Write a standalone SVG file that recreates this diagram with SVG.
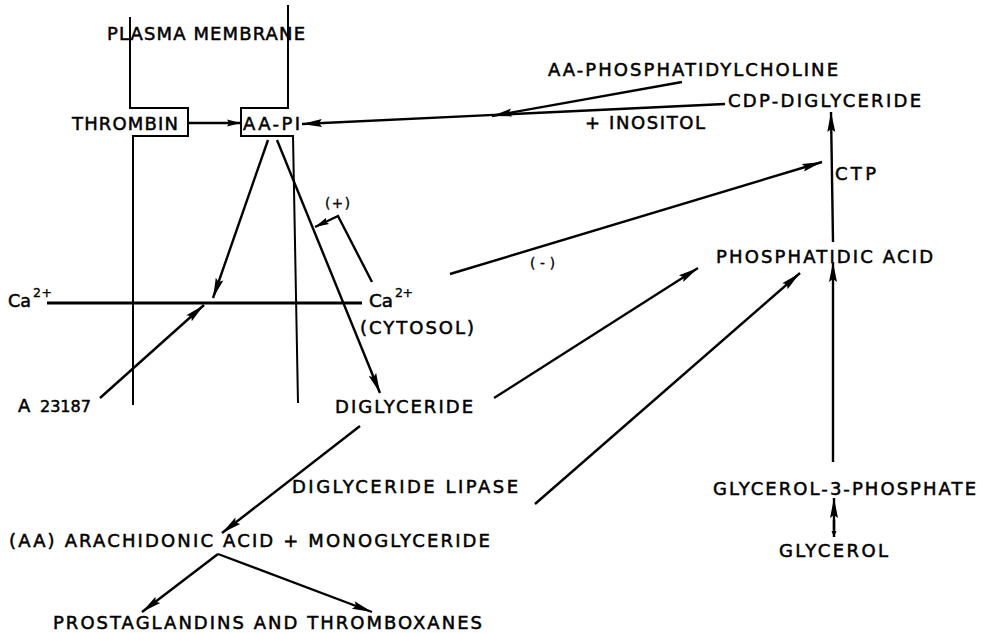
<svg xmlns="http://www.w3.org/2000/svg" width="983" height="633" viewBox="0 0 983 633">
<style>
text{font-family:"DejaVu Sans","Liberation Sans",Arial,sans-serif;font-size:18px;fill:#000;stroke:#000;stroke-width:0.5;}
.sm{font-size:13.5px;stroke-width:0.35;}
.sup{font-size:12.5px;stroke-width:0.35;}
.ln{fill:none;stroke:#000;stroke-width:2.4;}
.mb{fill:none;stroke:#000;stroke-width:2;}
</style>
<defs>
<marker id="ah" markerUnits="userSpaceOnUse" markerWidth="20" markerHeight="8" refX="20" refY="4" orient="auto" overflow="visible">
<path d="M0,0 L20,4 L0,8 L3,4 z" fill="#000"/>
</marker>
<marker id="ahs" markerUnits="userSpaceOnUse" markerWidth="14" markerHeight="7" refX="14" refY="3.5" orient="auto" overflow="visible">
<path d="M0,0 L14,3.5 L0,7 L2,3.5 z" fill="#000"/>
</marker>
<marker id="aht" markerUnits="userSpaceOnUse" markerWidth="6" markerHeight="5" refX="6" refY="2.5" orient="auto" overflow="visible">
<path d="M0,0 L6,2.5 L0,5 z" fill="#000"/>
</marker>
</defs>
<rect width="983" height="633" fill="#fff"/>

<g id="membrane">
<path class="mb" d="M130,17 L130,108 L188,108 L188,136 L133,136 L133,405"/>
<path class="mb" d="M288,5 L288,108 L241,108 L241,136 L293,136 L298,403"/>
<text x="107" y="40" textLength="198" lengthAdjust="spacing">PLASMA MEMBRANE</text>
</g>

<g id="thrombin"><text x="72" y="130" textLength="106" lengthAdjust="spacing">THROMBIN</text></g>
<g id="aa-pi"><text x="243" y="130" textLength="57" lengthAdjust="spacing">AA-PI</text></g>
<g id="aa-pc"><text x="548" y="76" textLength="290" lengthAdjust="spacing">AA-PHOSPHATIDYLCHOLINE</text></g>
<g id="cdp-dg"><text x="728" y="107" textLength="193" lengthAdjust="spacing">CDP-DIGLYCERIDE</text></g>
<g id="inositol"><text x="585" y="129" textLength="120" lengthAdjust="spacing">+ INOSITOL</text></g>
<g id="ctp"><text x="835" y="180" textLength="41" lengthAdjust="spacing">CTP</text></g>
<g id="plus"><text class="sm" x="325" y="208" textLength="25" lengthAdjust="spacing">(+)</text></g>
<g id="minus"><text class="sm" x="530" y="268" textLength="25" lengthAdjust="spacing">(-)</text></g>
<g id="pa"><text x="716" y="263" textLength="217" lengthAdjust="spacing">PHOSPHATIDIC ACID</text></g>
<g id="ca-out"><text x="8" y="307" textLength="23" lengthAdjust="spacingAndGlyphs">Ca</text><text class="sup" x="33" y="297" textLength="19" lengthAdjust="spacing">2+</text></g>
<g id="ca-cyt"><text x="369" y="307" textLength="24" lengthAdjust="spacingAndGlyphs">Ca</text><text class="sup" x="395" y="297" textLength="18" lengthAdjust="spacing">2+</text><text x="360" y="334" textLength="114" lengthAdjust="spacing">(CYTOSOL)</text></g>
<g id="a23187"><text y="412"><tspan x="18">A</tspan> <tspan x="40" style="font-size:16px">23187</tspan></text></g>
<g id="dg"><text x="335" y="413" textLength="138" lengthAdjust="spacing">DIGLYCERIDE</text></g>
<g id="dg-lipase"><text x="292" y="493" textLength="226" lengthAdjust="spacing">DIGLYCERIDE LIPASE</text></g>
<g id="g3p"><text x="713" y="495" textLength="263" lengthAdjust="spacing">GLYCEROL-3-PHOSPHATE</text></g>
<g id="aa"><text x="9" y="547" textLength="481" lengthAdjust="spacing">(AA) ARACHIDONIC ACID + MONOGLYCERIDE</text></g>
<g id="glycerol"><text x="779" y="557" textLength="109" lengthAdjust="spacing">GLYCEROL</text></g>
<g id="pg-tx"><text x="53" y="629" textLength="429" lengthAdjust="spacing">PROSTAGLANDINS AND THROMBOXANES</text></g>

<g id="connectors">
<line class="ln" x1="188" y1="123" x2="241" y2="123" marker-end="url(#ahs)"/>
<line class="ln" x1="725" y1="104" x2="302" y2="124" marker-end="url(#ah)"/>
<line class="ln" x1="682" y1="82" x2="492" y2="116" marker-end="url(#ah)"/>
<line class="ln" x1="268" y1="140" x2="213" y2="298" marker-end="url(#ah)"/>
<line class="ln" x1="277" y1="140" x2="380" y2="393" marker-end="url(#ah)"/>
<path class="ln" d="M372,282 L338,216 L315,227" marker-end="url(#ahs)"/>
<line class="ln" style="stroke-width:3" x1="47" y1="303" x2="362" y2="303"/>
<line class="ln" x1="100" y1="398" x2="204" y2="305" marker-end="url(#ah)"/>
<line class="ln" x1="450" y1="274" x2="822" y2="162" marker-end="url(#ah)"/>
<line class="ln" x1="833" y1="242" x2="831" y2="112" marker-end="url(#ah)"/>
<line class="ln" x1="494" y1="398" x2="698" y2="268" marker-end="url(#ah)"/>
<line class="ln" x1="535" y1="504" x2="800" y2="273" marker-end="url(#ah)"/>
<line class="ln" x1="833" y1="462" x2="833" y2="262" marker-end="url(#ah)"/>
<line class="ln" x1="360" y1="426" x2="222" y2="533" marker-end="url(#ah)"/>
<line class="ln" x1="834" y1="530" x2="834" y2="498" marker-end="url(#ah)"/>
<line class="ln" x1="834" y1="520" x2="834" y2="537" marker-end="url(#aht)"/>
<line class="ln" x1="218" y1="554" x2="142" y2="612" marker-end="url(#ah)"/>
<line class="ln" x1="218" y1="554" x2="372" y2="612" marker-end="url(#ah)"/>
</g>
</svg>
